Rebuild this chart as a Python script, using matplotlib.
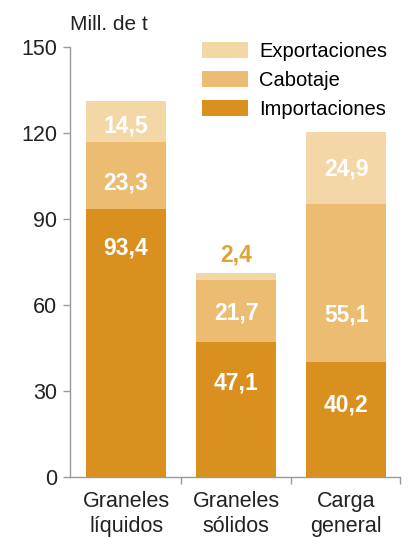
import matplotlib
matplotlib.use("Agg")
import matplotlib.pyplot as plt
from matplotlib.patches import Patch
import numpy as np

plt.rcParams['font.family'] = ['Liberation Sans', 'DejaVu Sans']

categories = ["Graneles\nlíquidos", "Graneles\nsólidos", "Carga\ngeneral"]
importaciones = [93.4, 47.1, 40.2]
cabotaje = [23.3, 21.7, 55.1]
exportaciones = [14.5, 2.4, 24.9]
series_names = ["Importaciones", "Cabotaje", "Exportaciones"]
colors = ["#D9901E", "#EBBC72", "#F3D7A6"]
yticks = [0, 30, 60, 90, 120, 150]

# label vertical placement (layout, in data units) per series per category
label_y = [[79.9, 32.8, 25.1],
           [102.5, 57.2, 56.5],
           [122.4, 77.5, 107.5]]

fig = plt.figure(figsize=(4.09, 5.37), dpi=100)
ax = fig.add_axes([70/409, 1-477/537, 330/409, 430/537])

x = np.arange(len(categories))
w = 0.727
bottom = np.zeros(3)
for si, (vals, col) in enumerate(zip([importaciones, cabotaje, exportaciones], colors)):
    ax.bar(x, vals, w, bottom=bottom, color=col, edgecolor='none')
    for ci, (xi, v) in enumerate(zip(x, vals)):
        inside = v >= 5
        ax.text(xi, label_y[si][ci], f"{v:.1f}".replace('.', ','), ha='center', va='center',
                color='white' if inside else "#E2A234", fontsize=16.5, fontweight='bold')
    bottom += np.array(vals)

ax.set_xlim(-0.51, 2.49)
ax.set_ylim(0, 150)
ax.set_yticks(yticks)
ax.set_yticklabels([str(t) for t in yticks], fontsize=15.5, color='#222222')
ax.set_xticks(x)
ax.set_xticklabels(categories, fontsize=15.5, color='#222222', linespacing=1.25, va='top')
ax.set_xticks([0.5, 1.5, 2.49], minor=True)
ax.tick_params(axis='x', which='major', length=0, pad=10)
ax.tick_params(axis='x', which='minor', length=5, color='#999999', width=1)
ax.tick_params(axis='y', length=5, color='#999999', width=1, pad=4)
for s in ['top', 'right']:
    ax.spines[s].set_visible(False)
for s in ['left', 'bottom']:
    ax.spines[s].set_color('#999999')
    ax.spines[s].set_linewidth(1)

fig.text(70/409, 1-24/537, "Mill. de t", ha='left', va='center', fontsize=15, color='#222222')

handles = [Patch(facecolor=colors[2], edgecolor='none'),
           Patch(facecolor=colors[1], edgecolor='none'),
           Patch(facecolor=colors[0], edgecolor='none')]
labels = ["Exportaciones", "Cabotaje", "Importaciones"]
fig.legend(handles, labels, loc='upper left', bbox_to_anchor=(202/409, 1-42/537),
           frameon=False, fontsize=14.5, handlelength=2.3, handleheight=0.85,
           labelspacing=0.5, handletextpad=0.55, borderpad=0, borderaxespad=0)

fig.savefig("out.png", dpi=100)
